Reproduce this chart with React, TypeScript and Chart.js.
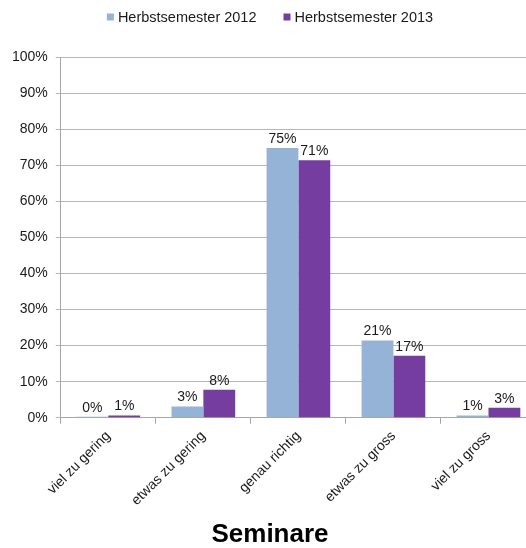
import React, { useEffect, useRef } from "react";
import { Chart, registerables } from "chart.js";

Chart.register(...registerables);

const categories = ["viel zu gering", "etwas zu gering", "genau richtig", "etwas zu gross", "viel zu gross"];
const series2012 = [0.3, 3.1, 74.8, 21.4, 0.6];
const series2013 = [0.6, 7.8, 71.4, 17.2, 2.8];
const seriesNames = ["Herbstsemester 2012", "Herbstsemester 2013"];
const seriesColors = ["#95B3D7", "#753D9F"];
const yTicks = [0, 10, 20, 30, 40, 50, 60, 70, 80, 90, 100];
const chartTitle = "Seminare";

const FONT = "'Liberation Sans', Arial, sans-serif";
const TEXT = "#1a1a1a";

const valueLabels = {
  id: "valueLabels",
  afterDatasetsDraw(chart: any) {
    const ctx = chart.ctx;
    ctx.save();
    ctx.font = `14px ${FONT}`;
    ctx.fillStyle = TEXT;
    ctx.textAlign = "center";
    ctx.textBaseline = "bottom";
    chart.data.datasets.forEach((ds: any, i: number) => {
      const meta = chart.getDatasetMeta(i);
      meta.data.forEach((bar: any, j: number) => {
        const v = ds.data[j];
        ctx.fillText(Math.round(v) + "%", bar.x, bar.y - 2);
      });
    });
    ctx.restore();
  },
};

const customLegend = {
  id: "customLegend",
  afterDraw(chart: any) {
    const ctx = chart.ctx;
    ctx.save();
    ctx.font = `14.5px ${FONT}`;
    const box = 7;
    const gapText = 4;
    const gapItem = 27;
    const items = chart.data.datasets.map((ds: any) => ({
      text: ds.label,
      color: ds.backgroundColor,
      w: ctx.measureText(ds.label).width,
    }));
    let total = 0;
    items.forEach((it: any, i: number) => {
      total += box + gapText + it.w + (i > 0 ? gapItem : 0);
    });
    let x = chart.width / 2 - total / 2;
    const y = 17;
    ctx.textBaseline = "middle";
    ctx.textAlign = "left";
    items.forEach((it: any, i: number) => {
      if (i > 0) x += gapItem;
      ctx.fillStyle = it.color;
      ctx.fillRect(x, y - box / 2, box, box);
      x += box + gapText;
      ctx.fillStyle = TEXT;
      ctx.fillText(it.text, x, y + 1);
      x += it.w;
    });
    ctx.restore();
  },
};

export default function App() {
  const ref = useRef<HTMLCanvasElement>(null);
  useEffect(() => {
    if (!ref.current) return;
    const chart = new Chart(ref.current, {
      type: "bar",
      data: {
        labels: categories,
        datasets: [
          { label: seriesNames[0], data: series2012, backgroundColor: seriesColors[0], categoryPercentage: 0.67, barPercentage: 1 },
          { label: seriesNames[1], data: series2013, backgroundColor: seriesColors[1], categoryPercentage: 0.67, barPercentage: 1 },
        ],
      },
      options: {
        responsive: false,
        animation: false,
        layout: { padding: { left: 4, right: 4, top: 57, bottom: 0 } },
        plugins: {
          legend: { display: false },
          title: {
            display: true,
            text: chartTitle,
            position: "bottom",
            color: "#000",
            font: { size: 26, weight: "bold", family: FONT, lineHeight: 1 },
            padding: { top: 9, bottom: 0 },
          },
          tooltip: { enabled: false },
        },
        scales: {
          x: {
            grid: { display: true, drawOnChartArea: false, drawTicks: true, tickLength: 6, color: "#A6A6A6", offset: true },
            border: { color: "#A6A6A6" },
            ticks: {
              color: TEXT,
              font: { size: 14, family: FONT },
              minRotation: 45,
              maxRotation: 45,
              padding: 4,
            },
          },
          y: {
            min: 0,
            max: 100,
            afterBuildTicks: (axis: any) => {
              axis.ticks = yTicks.map((v) => ({ value: v }));
            },
            grid: { color: "#B7B7B7", tickLength: 5 },
            border: { color: "#A6A6A6" },
            ticks: {
              color: TEXT,
              font: { size: 14, family: FONT },
              padding: 8,
              callback: (v: any) => v + "%",
            },
          },
        },
      },
      plugins: [valueLabels, customLegend],
    } as any);
    return () => chart.destroy();
  }, []);
  return (
    <div style={{ position: "fixed", left: 0, top: 0, width: 526, height: 548, overflow: "hidden", background: "#fff" }}>
      <canvas ref={ref} width={540} height={548} style={{ display: "block" }} />
    </div>
  );
}
